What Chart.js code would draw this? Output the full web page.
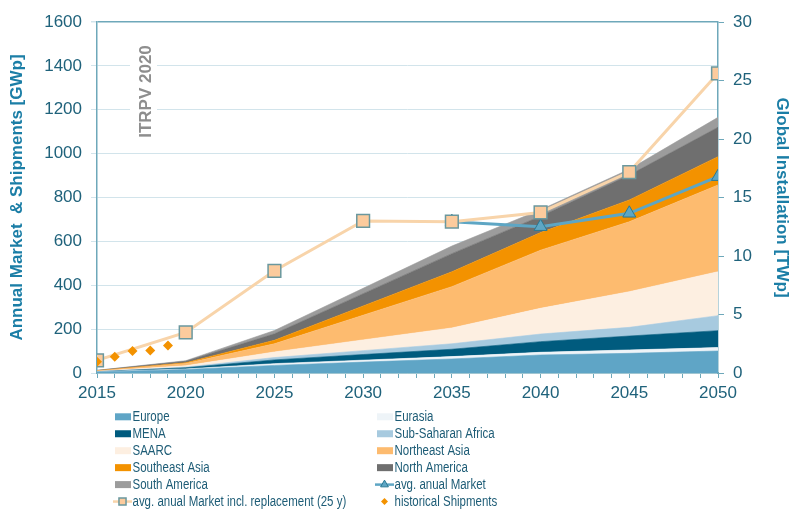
<!DOCTYPE html>
<html><head><meta charset="utf-8">
<script src="https://cdn.jsdelivr.net/npm/chart.js@4.4.1/dist/chart.umd.min.js"></script>
<style>html,body{margin:0;padding:0;background:#fff;overflow:hidden}#wrap{width:790px;height:510px;position:relative}</style>
</head><body><div id="wrap"><canvas id="c" width="790" height="510"></canvas></div>
<script>
// ---- data ----
const years = [2015, 2020, 2025, 2030, 2035, 2040, 2045, 2050];
const regionNames = ['Europe', 'Eurasia', 'MENA', 'Sub-Saharan Africa', 'SAARC', 'Northeast Asia', 'Southeast Asia', 'North America', 'South America'];
// cumulative installation per region [TWp] (stacked)
const europe           = [0.09, 0.30, 0.65, 0.93, 1.20, 1.54, 1.68, 1.88];
const eurasia          = [0.01, 0.05, 0.15, 0.17, 0.20, 0.23, 0.29, 0.29];
const mena             = [0.01, 0.10, 0.32, 0.48, 0.63, 0.91, 1.19, 1.45];
const subSaharanAfrica = [0.01, 0.05, 0.20, 0.33, 0.47, 0.65, 0.74, 1.28];
const saarc            = [0.02, 0.12, 0.48, 0.92, 1.35, 2.20, 3.05, 3.76];
const northeastAsia    = [0.05, 0.20, 0.70, 2.11, 3.53, 4.97, 5.98, 7.41];
const southeastAsia    = [0.005, 0.06, 0.30, 0.79, 1.27, 1.50, 1.86, 2.42];
const northAmerica     = [0.025, 0.12, 0.55, 1.05, 1.55, 1.40, 2.13, 2.51];
const southAmerica     = [0.01, 0.05, 0.28, 0.46, 0.65, 0.55, 0.49, 0.85];
const regionValues = [europe, eurasia, mena, subSaharanAfrica, saarc, northeastAsia, southeastAsia, northAmerica, southAmerica];
const regionColors = ['#5fa5c6', '#eef4f8', '#005b7e', '#a7cadf', '#fdefe1', '#fdbb6f', '#f39200', '#6f6f6f', '#9c9c9c'];

// annual market [GWp]
const avgMarketLabel = 'avg. anual Market';
const avgMarketYears = [2035, 2040, 2045, 2050];
const avgMarket = [690, 667, 728, 895];
const replLabel = 'avg. anual Market incl. replacement (25 y)';
const marketInclReplacement = [58, 185, 466, 693, 690, 732, 916, 1366];
const histLabel = 'historical Shipments';
const historicalYears = [2015, 2016, 2017, 2018, 2019];
const historicalShipments = [51, 74, 100, 102, 125];

const leftTitle = 'Annual Market  & Shipments [GWp]';
const rightTitle = 'Global Installation [TWp]';
const watermark = 'ITRPV 2020';

// ---- styles ----
const FAMILY = '"Liberation Sans", Arial, Helvetica, sans-serif';
const axisColor = '#6ea8ba';
const gridColor = '#d2e4eb';
const tickLabelColor = '#1f627b';
const titleColor = '#1b7ea6';
const legendTextColor = '#1d5c76';

const pts = (xs, ys) => xs.map((x, i) => ({x: x, y: ys[i]}));

const datasets = regionNames.map((name, i) => ({
  label: name,
  data: pts(years, regionValues[i]),
  yAxisID: 'y2',
  stack: 'regions',
  backgroundColor: regionColors[i],
  borderColor: regionColors[i],
  borderWidth: 0.6,
  pointRadius: 0,
  fill: i === 0 ? 'origin' : '-1',
  tension: 0,
  order: 3
}));
datasets.push({
  label: avgMarketLabel,
  data: pts(avgMarketYears, avgMarket),
  yAxisID: 'y',
  borderColor: '#5ea6c4',
  backgroundColor: '#5ea6c4',
  pointBorderColor: '#2a7993',
  pointBorderWidth: 1,
  borderWidth: 3,
  pointStyle: 'triangle',
  pointRadius: 7.5,
  fill: false,
  order: 2
});
datasets.push({
  label: replLabel,
  data: pts(years, marketInclReplacement),
  yAxisID: 'y',
  borderColor: '#f8d4aa',
  backgroundColor: '#fccb9d',
  pointBorderColor: '#6a989e',
  pointBorderWidth: 1.5,
  borderWidth: 3,
  pointStyle: 'rect',
  pointRadius: 9,
  fill: false,
  order: 1
});
datasets.push({
  label: histLabel,
  data: pts(historicalYears, historicalShipments),
  yAxisID: 'y',
  showLine: false,
  borderColor: '#f39200',
  backgroundColor: '#f39200',
  pointStyle: 'rectRot',
  pointRadius: 5,
  pointBorderWidth: 0,
  fill: false,
  order: 0
});

const extras = {
  id: 'extras',
  beforeDatasetsDraw(chart) {
    const ctx = chart.ctx;
    ctx.save();
    ctx.fillStyle = '#ffffff';
    ctx.fillRect(130, 40, 27, 104);
    ctx.translate(145, 91.5);
    ctx.rotate(-Math.PI / 2);
    ctx.font = 'bold 17px ' + FAMILY;
    ctx.fillStyle = '#8e8e8e';
    ctx.textAlign = 'center';
    ctx.textBaseline = 'middle';
    ctx.fillText(watermark, 0, 1);
    ctx.restore();
  },
  afterDraw(chart) {
    const ctx = chart.ctx;
    ctx.save();
    ctx.font = '14px "Liberation Sans Narrow"';
    const w1 = ctx.measureText('Europe Market incl').width;
    ctx.font = '14px "Liberation Sans"';
    const w2 = ctx.measureText('Europe Market incl').width;
    const narrow = w1 < w2 * 0.9;
    const colX = [115, 377];
    const rowY0 = 416.8, rowDY = 16.95;
    chart.data.datasets.forEach((ds, i) => {
      const row = Math.floor(i / 2), col = i % 2;
      const x = colX[col], y = rowY0 + row * rowDY;
      if (ds.fill) {
        ctx.fillStyle = ds.backgroundColor;
        ctx.fillRect(x, y - 3.5, 16, 7);
      } else {
        if (ds.showLine !== false) {
          ctx.strokeStyle = ds.borderColor;
          ctx.lineWidth = 2.5;
          ctx.beginPath();
          ctx.moveTo(x - 2, y);
          ctx.lineTo(x + 17, y);
          ctx.stroke();
        }
        ctx.fillStyle = ds.backgroundColor;
        ctx.strokeStyle = ds.pointBorderColor || ds.borderColor;
        ctx.lineWidth = ds.pointBorderWidth || 0;
        const r = ds.pointStyle === 'rect' ? 5 : (ds.pointStyle === 'triangle' ? 4.5 : 3.5);
        Chart.helpers.drawPoint(ctx, {pointStyle: ds.pointStyle, rotation: 0, radius: r, borderWidth: ds.pointBorderWidth || 0}, x + 7.5, y);
      }
      ctx.fillStyle = legendTextColor;
      ctx.textBaseline = 'middle';
      ctx.textAlign = 'left';
      const tx = x + 17.5;
      if (narrow) {
        ctx.font = '14px "Liberation Sans Narrow"';
        ctx.fillText(ds.label, tx, y + 0.5);
      } else {
        ctx.font = '14px ' + FAMILY;
        ctx.save();
        ctx.translate(tx, y + 0.5);
        ctx.scale(0.82, 1);
        ctx.fillText(ds.label, 0, 0);
        ctx.restore();
      }
    });
    ctx.restore();
  }
};

new Chart(document.getElementById('c'), {
  type: 'line',
  data: {datasets: datasets},
  plugins: [extras],
  options: {
    responsive: false,
    animation: false,
    devicePixelRatio: 1,
    layout: {padding: {top: 22, bottom: 107, left: 0, right: 0}},
    plugins: {legend: {display: false}, tooltip: {enabled: false}},
    elements: {line: {tension: 0}},
    scales: {
      x: {
        type: 'linear', min: 2015, max: 2050,
        ticks: {stepSize: 1, autoSkip: false, maxRotation: 0, padding: 5, color: tickLabelColor,
          font: {size: 17, family: FAMILY},
          callback: v => (v % 5 === 0 ? String(v) : '')},
        grid: {drawOnChartArea: false, drawTicks: true, tickLength: 5, color: axisColor, lineWidth: 1},
        border: {display: true, color: axisColor, width: 1.5},
        afterFit: s => { s.height = 30; }
      },
      y: {
        position: 'left', min: 0, max: 1600,
        ticks: {stepSize: 200, padding: 9, color: tickLabelColor, font: {size: 17, family: FAMILY}, callback: v => String(v)},
        grid: {color: c => (c.tick && c.tick.value === 1600 ? axisColor : gridColor), tickColor: gridColor, tickLength: 6, lineWidth: c => (c.tick && c.tick.value === 1600 ? 1.5 : 1)},
        border: {display: true, color: axisColor, width: 1.5},
        title: {display: true, text: leftTitle, color: titleColor, font: {size: 17, weight: 'bold', family: FAMILY}, padding: {top: 7, bottom: 0}},
        afterFit: s => { s.width = 97; }
      },
      y2: {
        position: 'right', min: 0, max: 30, stacked: true,
        ticks: {stepSize: 5, padding: 9, color: tickLabelColor, font: {size: 17, family: FAMILY}, callback: v => String(v)},
        grid: {drawOnChartArea: false, tickLength: 6, color: axisColor},
        border: {display: true, color: axisColor, width: 1.5},
        title: {display: true, text: rightTitle, color: titleColor, font: {size: 17, weight: 'bold', family: FAMILY}, padding: {top: -2, bottom: 0}},
        afterFit: s => { s.width = 72; }
      }
    }
  }
});
</script>
</body></html>
